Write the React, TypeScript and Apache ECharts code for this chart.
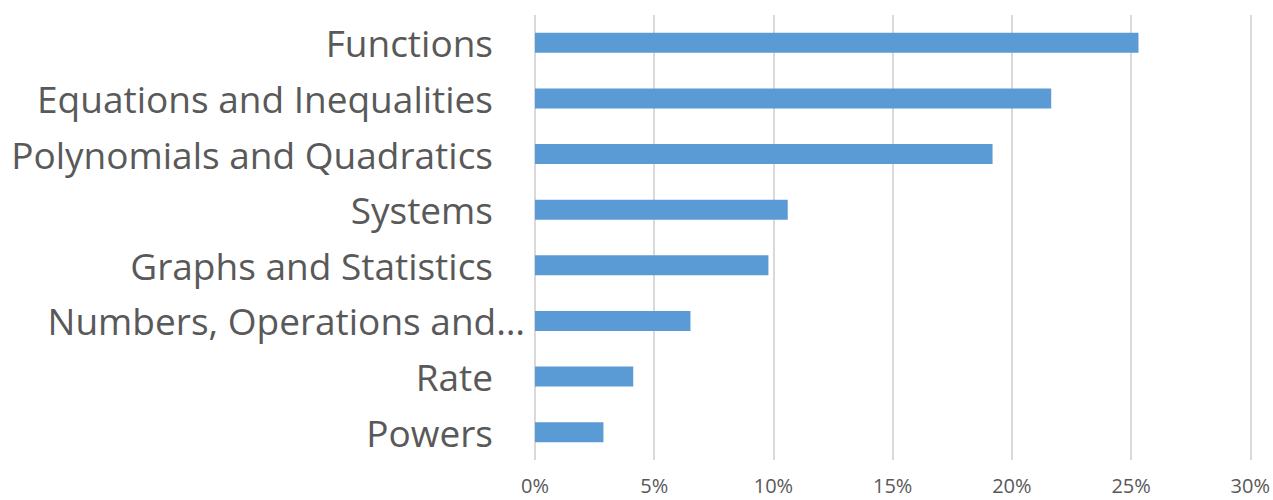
import React, { useEffect, useRef } from "react";
import * as echarts from "echarts";

const categories = [
  "Functions",
  "Equations and Inequalities",
  "Polynomials and Quadratics",
  "Systems",
  "Graphs and Statistics",
  "Numbers, Operations and…",
  "Rate",
  "Powers",
];
const values = [25.31, 21.65, 19.19, 10.6, 9.79, 6.52, 4.12, 2.87];
const xTicks = [0, 5, 10, 15, 20, 25, 30];

export default function App() {
  const ref = useRef<HTMLDivElement>(null);
  useEffect(() => {
    if (!ref.current) return;
    const chart = echarts.init(ref.current, null, { renderer: "svg" });
    chart.setOption({
      animation: false,
      grid: { left: 535, right: 22, top: 15, bottom: 40, containLabel: false },
      xAxis: {
        type: "value",
        min: xTicks[0],
        max: xTicks[xTicks.length - 1],
        interval: 5,
        axisLine: { show: false },
        axisTick: { show: false },
        splitLine: { show: true, lineStyle: { color: "#d9d9d9", width: 2 } },
        axisLabel: {
          formatter: (v: number) => v + "%",
          color: "#595959",
          fontSize: 20,
          fontFamily: "Open Sans",
          margin: 15,
        },
      },
      yAxis: {
        type: "category",
        data: categories,
        inverse: true,
        axisLine: { show: false },
        axisTick: { show: false },
        axisLabel: {
          color: "#595959",
          fontSize: 37,
          fontFamily: "Open Sans",
          margin: 10,
          formatter: (v: string) => (v.endsWith("…") ? "{t|" + v + "}" : "{p|" + v + "}"),
          rich: {
            p: { color: "#595959", fontSize: 37, fontFamily: "Open Sans", padding: [0, 32, 0, 0] },
            t: { color: "#595959", fontSize: 37, fontFamily: "Open Sans" },
          },
        },
      },
      series: [
        {
          type: "bar",
          data: values,
          barWidth: 20,
          itemStyle: { color: "#5b9bd5" },
        },
      ],
    });
    return () => chart.dispose();
  }, []);
  return (
    <div
      ref={ref}
      style={{ position: "fixed", left: 0, top: 0, width: 1273, height: 500, background: "#fff" }}
    />
  );
}
